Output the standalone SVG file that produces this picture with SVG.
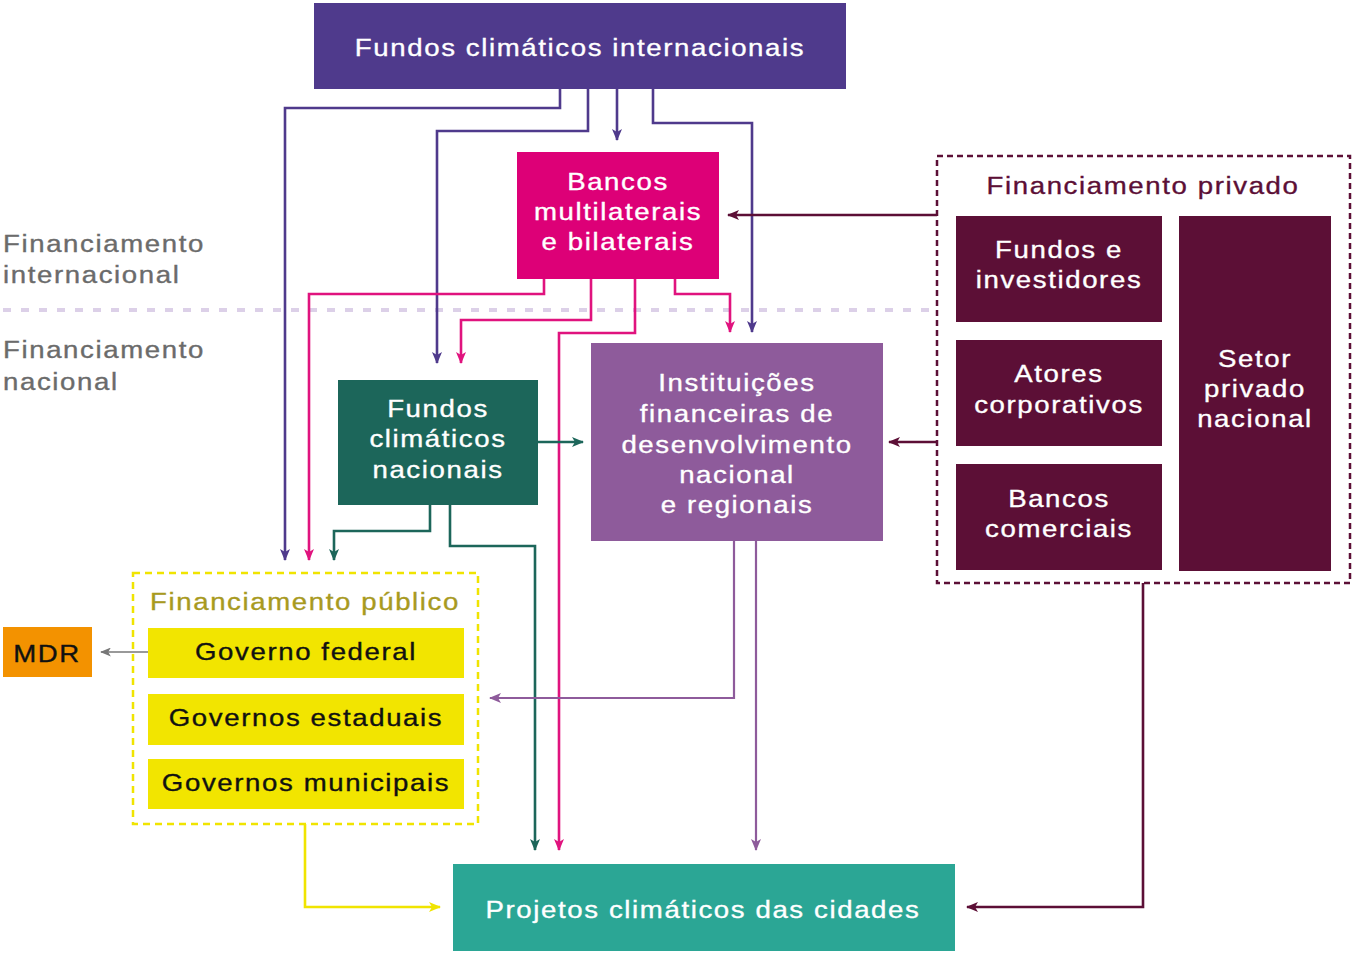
<svg xmlns="http://www.w3.org/2000/svg" width="1352" height="953" viewBox="0 0 1352 953">
  <defs>
    <style>
      .t { font-family: "Liberation Sans", Arial, Helvetica, sans-serif; font-size: 24px; letter-spacing: 1.4px; text-anchor: middle; stroke-width: 0.35px; }
      .w { fill: #ffffff; stroke: #ffffff; }
      .k { fill: #111111; stroke: #111111; }
      .lbl { fill: #6b6b6b; stroke: #6b6b6b; text-anchor: start; }
      .pv { fill: #5c0f36; stroke: #5c0f36; }
      .pb { fill: #a89a1f; stroke: #a89a1f; }
      .ln { fill: none; stroke-width: 2.6; stroke-linejoin: miter; }
      .pu { stroke: #4f3a8c; }
      .mg { stroke: #e0137e; }
      .gr { stroke: #1c665a; }
      .vi { stroke: #8e5b9b; stroke-width: 2.2; }
      .mr { stroke: #5c0f36; }
      .ye { stroke: #f0e400; }
      .gy { stroke: #777777; stroke-width: 1.6; }
    </style>
    <marker id="a-pu" viewBox="0 0 12 10" refX="11" refY="5" markerWidth="12" markerHeight="10" markerUnits="userSpaceOnUse" orient="auto"><path d="M0,0 L12,5 L0,10 L3,5 z" fill="#4f3a8c"/></marker>
    <marker id="a-mg" viewBox="0 0 12 10" refX="11" refY="5" markerWidth="12" markerHeight="10" markerUnits="userSpaceOnUse" orient="auto"><path d="M0,0 L12,5 L0,10 L3,5 z" fill="#e0137e"/></marker>
    <marker id="a-gr" viewBox="0 0 12 10" refX="11" refY="5" markerWidth="12" markerHeight="10" markerUnits="userSpaceOnUse" orient="auto"><path d="M0,0 L12,5 L0,10 L3,5 z" fill="#1c665a"/></marker>
    <marker id="a-vi" viewBox="0 0 12 10" refX="11" refY="5" markerWidth="12" markerHeight="10" markerUnits="userSpaceOnUse" orient="auto"><path d="M0,0 L12,5 L0,10 L3,5 z" fill="#8e5b9b"/></marker>
    <marker id="a-mr" viewBox="0 0 12 10" refX="11" refY="5" markerWidth="12" markerHeight="10" markerUnits="userSpaceOnUse" orient="auto"><path d="M0,0 L12,5 L0,10 L3,5 z" fill="#5c0f36"/></marker>
    <marker id="a-ye" viewBox="0 0 12 10" refX="11" refY="5" markerWidth="12" markerHeight="10" markerUnits="userSpaceOnUse" orient="auto"><path d="M0,0 L12,5 L0,10 L3,5 z" fill="#f0e400"/></marker>
    <marker id="a-gy" viewBox="0 0 12 10" refX="11" refY="5" markerWidth="11" markerHeight="9" markerUnits="userSpaceOnUse" orient="auto"><path d="M0,0 L12,5 L0,10 L3,5 z" fill="#777777"/></marker>
  </defs>

  <rect width="1352" height="953" fill="#ffffff"/>

  <!-- level labels and separator -->
  <g id="levels">
    <line x1="3" y1="310" x2="932" y2="310" stroke="#dcd0e8" stroke-width="4" stroke-dasharray="8 10"/>
    <text class="t lbl" transform="translate(3 252) scale(1.15 1)">Financiamento</text>
    <text class="t lbl" transform="translate(3 283) scale(1.15 1)">internacional</text>
    <text class="t lbl" transform="translate(3 358) scale(1.15 1)">Financiamento</text>
    <text class="t lbl" transform="translate(3 390) scale(1.15 1)">nacional</text>
  </g>

  <!-- connectors -->
  <g id="connectors">
    <!-- from international climate funds -->
    <path class="ln pu" d="M560,89 V108 H285 V560" marker-end="url(#a-pu)"/>
    <path class="ln pu" d="M588,89 V131 H437 V363" marker-end="url(#a-pu)"/>
    <path class="ln pu" d="M617,89 V140" marker-end="url(#a-pu)"/>
    <path class="ln pu" d="M653,89 V123 H752 V332" marker-end="url(#a-pu)"/>
    <!-- from multilateral and bilateral banks -->
    <path class="ln mg" d="M544,279 V294 H309 V560" marker-end="url(#a-mg)"/>
    <path class="ln mg" d="M591,279 V320 H461 V363" marker-end="url(#a-mg)"/>
    <path class="ln mg" d="M635,279 V333 H559 V850" marker-end="url(#a-mg)"/>
    <path class="ln mg" d="M675,279 V294 H730 V332" marker-end="url(#a-mg)"/>
    <!-- from national climate funds -->
    <path class="ln gr" d="M538,442 H583" marker-end="url(#a-gr)"/>
    <path class="ln gr" d="M430,505 V531 H334 V560" marker-end="url(#a-gr)"/>
    <path class="ln gr" d="M450,505 V546 H535 V850" marker-end="url(#a-gr)"/>
    <!-- from development finance institutions -->
    <path class="ln vi" d="M734,541 V698 H490" marker-end="url(#a-vi)"/>
    <path class="ln vi" d="M756,541 V850" marker-end="url(#a-vi)"/>
    <!-- from private finance -->
    <path class="ln mr" d="M937,215 H728" marker-end="url(#a-mr)"/>
    <path class="ln mr" d="M937,442 H889" marker-end="url(#a-mr)"/>
    <path class="ln mr" d="M1143,583 V907 H967" marker-end="url(#a-mr)"/>
    <!-- from public finance -->
    <path class="ln ye" d="M305,824 V907 H440" marker-end="url(#a-ye)"/>
    <path class="ln gy" d="M173,652 H101" marker-end="url(#a-gy)"/>
  </g>

  <g id="fundos-internacionais">
    <rect x="314" y="3" width="532" height="86" fill="#4f3a8c"/>
    <text class="t w" transform="translate(580 56) scale(1.15 1)">Fundos climáticos internacionais</text>
  </g>

  <g id="bancos-multilaterais">
    <rect x="517" y="152" width="202" height="127" fill="#dd0077"/>
    <text class="t w" transform="translate(618 190) scale(1.15 1)">Bancos</text>
    <text class="t w" transform="translate(618 220) scale(1.15 1)">multilaterais</text>
    <text class="t w" transform="translate(618 250) scale(1.15 1)">e bilaterais</text>
  </g>

  <g id="fundos-nacionais">
    <rect x="338" y="380" width="200" height="125" fill="#1c665a"/>
    <text class="t w" transform="translate(438 417) scale(1.15 1)">Fundos</text>
    <text class="t w" transform="translate(438 447) scale(1.15 1)">climáticos</text>
    <text class="t w" transform="translate(438 478) scale(1.15 1)">nacionais</text>
  </g>

  <g id="instituicoes">
    <rect x="591" y="343" width="292" height="198" fill="#8e5b9b"/>
    <text class="t w" transform="translate(737 391) scale(1.15 1)">Instituições</text>
    <text class="t w" transform="translate(737 422) scale(1.15 1)">financeiras de</text>
    <text class="t w" transform="translate(737 453) scale(1.15 1)">desenvolvimento</text>
    <text class="t w" transform="translate(737 483) scale(1.15 1)">nacional</text>
    <text class="t w" transform="translate(737 513) scale(1.15 1)">e regionais</text>
  </g>

  <g id="financiamento-privado">
    <rect x="937" y="156" width="413" height="427" fill="none" stroke="#5c0f36" stroke-width="2.5" stroke-dasharray="6 4"/>
    <text class="t pv" transform="translate(1143 194) scale(1.15 1)">Financiamento privado</text>
    <g id="fundos-investidores">
      <rect x="956" y="216" width="206" height="106" fill="#5c0f36"/>
      <text class="t w" transform="translate(1059 258) scale(1.15 1)">Fundos e</text>
      <text class="t w" transform="translate(1059 288) scale(1.15 1)">investidores</text>
    </g>
    <g id="atores-corporativos">
      <rect x="956" y="340" width="206" height="106" fill="#5c0f36"/>
      <text class="t w" transform="translate(1059 382) scale(1.15 1)">Atores</text>
      <text class="t w" transform="translate(1059 413) scale(1.15 1)">corporativos</text>
    </g>
    <g id="bancos-comerciais">
      <rect x="956" y="464" width="206" height="106" fill="#5c0f36"/>
      <text class="t w" transform="translate(1059 507) scale(1.15 1)">Bancos</text>
      <text class="t w" transform="translate(1059 537) scale(1.15 1)">comerciais</text>
    </g>
    <g id="setor-privado">
      <rect x="1179" y="216" width="152" height="355" fill="#5c0f36"/>
      <text class="t w" transform="translate(1255 367) scale(1.15 1)">Setor</text>
      <text class="t w" transform="translate(1255 397) scale(1.15 1)">privado</text>
      <text class="t w" transform="translate(1255 427) scale(1.15 1)">nacional</text>
    </g>
  </g>

  <g id="financiamento-publico">
    <rect x="133" y="573" width="345" height="251" fill="none" stroke="#f0e400" stroke-width="2.5" stroke-dasharray="7 5"/>
    <text class="t pb" transform="translate(305 610) scale(1.15 1)">Financiamento público</text>
    <g id="governo-federal">
      <rect x="148" y="628" width="316" height="50" fill="#f2e500"/>
      <text class="t k" transform="translate(306 660) scale(1.15 1)">Governo federal</text>
    </g>
    <g id="governos-estaduais">
      <rect x="148" y="694" width="316" height="51" fill="#f2e500"/>
      <text class="t k" transform="translate(306 726) scale(1.15 1)">Governos estaduais</text>
    </g>
    <g id="governos-municipais">
      <rect x="148" y="759" width="316" height="50" fill="#f2e500"/>
      <text class="t k" transform="translate(306 791) scale(1.15 1)">Governos municipais</text>
    </g>
  </g>

  <g id="mdr">
    <rect x="3" y="627" width="89" height="50" fill="#f39200"/>
    <text class="t k" transform="translate(47 662) scale(1.15 1)">MDR</text>
  </g>

  <g id="projetos-cidades">
    <rect x="453" y="864" width="502" height="87" fill="#2ba695"/>
    <text class="t w" transform="translate(703 918) scale(1.15 1)">Projetos climáticos das cidades</text>
  </g>
</svg>
